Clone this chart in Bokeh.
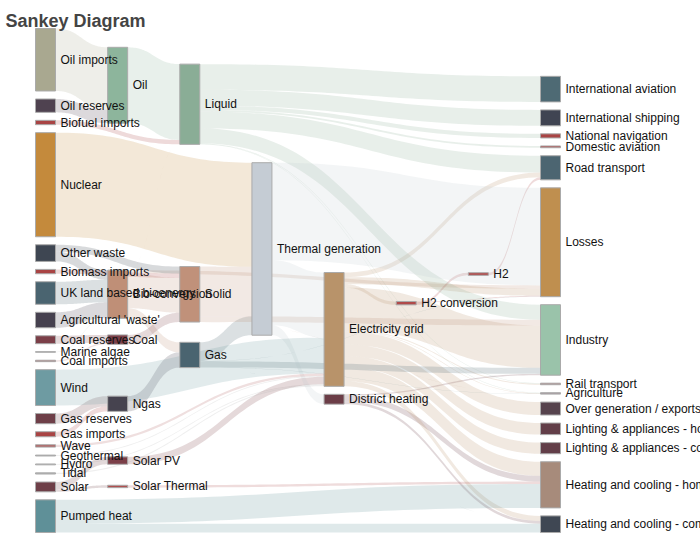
import numpy as np
from bokeh.plotting import figure
from bokeh.models import Range1d, ColumnDataSource
from bokeh.core.properties import value
from bokeh.embed import file_html
from bokeh.resources import INLINE

# ---------------- data ----------------
node_names = [
    "Agricultural 'waste'", "Bio-conversion", "Liquid", "Losses", "Solid", "Gas",
    "Biofuel imports", "Biomass imports", "Coal imports", "Coal", "Coal reserves",
    "District heating", "Industry", "Heating and cooling - commercial",
    "Heating and cooling - homes", "Electricity grid", "Over generation / exports",
    "H2 conversion", "Road transport", "Agriculture", "Rail transport",
    "Lighting & appliances - commercial", "Lighting & appliances - homes",
    "Gas imports", "Ngas", "Gas reserves", "Thermal generation", "Geothermal", "H2",
    "Hydro", "International shipping", "Domestic aviation", "International aviation",
    "National navigation", "Marine algae", "Nuclear", "Oil imports", "Oil",
    "Oil reserves", "Other waste", "Pumped heat", "Solar PV", "Solar Thermal",
    "Solar", "Tidal", "UK land based bioenergy", "Wave", "Wind",
]
node_colors = [
    "#46414f", "#bf8f77", "#8aad96", "#bf8f4f", "#c0917a", "#4a6470",
    "#a94444", "#a94444", "#b06868", "#7b3f48", "#7b3f48",
    "#6b3d47", "#9ac3aa", "#3f4753",
    "#a78b7b", "#b8936a", "#56434d",
    "#b04a4a", "#4c6571", "#a89aa0", "#b08080",
    "#623e48", "#623e48",
    "#a94444", "#46434f", "#6e3f48", "#c5ccd4", "#b0b0b0", "#b04a4a",
    "#b0b0b0", "#404452", "#b05050", "#4e6a74",
    "#a94444", "#b0b0b0", "#c48a3c", "#a9a890", "#8db59c",
    "#4f4250", "#3e4652", "#5f9098", "#7b3f48", "#b05050",
    "#6e3f48", "#b0b0b0", "#4a6470", "#b06060", "#6e9ba2",
]
# order in which the nodes are listed (top to bottom within each column)
node_order = [
    "Oil imports", "Oil reserves", "Biofuel imports", "Nuclear", "Other waste",
    "Biomass imports", "UK land based bioenergy", "Agricultural 'waste'", "Coal reserves",
    "Marine algae", "Coal imports", "Wind", "Gas reserves", "Gas imports", "Wave",
    "Geothermal", "Hydro", "Tidal", "Solar", "Pumped heat",
    "Oil", "Bio-conversion", "Coal", "Ngas", "Solar PV", "Solar Thermal",
    "Liquid", "Solid", "Gas", "Thermal generation", "Electricity grid", "District heating",
    "H2 conversion", "H2",
    "International aviation", "International shipping", "National navigation",
    "Domestic aviation", "Road transport", "Losses", "Industry", "Rail transport",
    "Agriculture", "Over generation / exports", "Lighting & appliances - homes",
    "Lighting & appliances - commercial", "Heating and cooling - homes",
    "Heating and cooling - commercial",
]
link_source = [0, 1, 1, 1, 1, 6, 7, 8, 10, 9, 11, 11, 11, 15, 15, 15, 15, 15, 15, 15,
               15, 15, 15, 15, 23, 25, 5, 5, 5, 5, 5, 27, 17, 17, 28, 29, 2, 2, 2, 2,
               2, 2, 2, 2, 34, 24, 35, 36, 38, 37, 39, 39, 40, 40, 41, 42, 43, 43, 4, 4,
               4, 26, 26, 26, 44, 45, 46, 47]
link_target = [1, 2, 3, 4, 5, 2, 4, 9, 9, 4, 12, 13, 14, 16, 14, 17, 12, 18, 19, 13,
               3, 20, 21, 22, 24, 24, 13, 3, 26, 19, 12, 15, 28, 3, 18, 15, 12, 30, 18, 31,
               32, 19, 33, 20, 1, 5, 26, 37, 37, 2, 4, 1, 14, 13, 15, 14, 42, 41, 19, 26,
               12, 15, 3, 11, 15, 1, 15, 15]
link_value = [124.729, 0.597, 26.862, 280.322, 81.144, 35, 35, 11.606, 63.965, 75.571,
              10.639, 22.505, 46.184, 104.453, 113.726, 27.14, 342.165, 37.797, 4.412,
              40.858, 56.691, 7.863, 90.008, 93.494, 40.719, 82.233, 0.129, 1.401,
              151.891, 2.096, 48.58, 7.013, 20.897, 6.242, 20.897, 6.995, 121.066,
              128.69, 135.835, 14.458, 206.267, 3.64, 33.218, 4.413, 4.375, 122.952,
              839.978, 504.287, 107.703, 611.99, 56.587, 77.81, 193.026, 70.672, 59.901,
              19.263, 19.263, 59.901, 0.882, 400.12, 46.477, 525.531, 787.129, 79.329,
              9.452, 182.01, 19.013, 289.366]
title_text = "Sankey Diagram"

# ---------------- layout (relaxation sankey, listed order kept) ----------------
PW, PH = 700, 560
LEFT, TOP = 0.05 * PW, 0.05 * PH
W, H = PW * 0.75, PH * 0.9
NODE_W, GAP, ITER = 20, 8, 32

N = len(node_names)
E = len(link_value)
order = [node_names.index(n) for n in node_order]
outs = [[] for _ in range(N)]
ins = [[] for _ in range(N)]
for e in range(E):
    outs[link_source[e]].append(e)
    ins[link_target[e]].append(e)
nval = [max(sum(link_value[e] for e in outs[i]), sum(link_value[e] for e in ins[i]))
        for i in range(N)]

indeg = [len(ins[i]) for i in range(N)]
zero = [i for i in order if indeg[i] == 0]
depth = [0] * N
step = 0
while zero:
    nxt = []
    for i in zero:
        depth[i] = step
        for e in outs[i]:
            t = link_target[e]
            indeg[t] -= 1
            if indeg[t] == 0 and t not in nxt:
                nxt.append(t)
    step += 1
    zero = nxt
maxd = step - 1
for i in range(N):
    if not outs[i]:
        depth[i] = maxd
kx = (W - NODE_W) / maxd
nx = [depth[i] * kx for i in range(N)]
cols = [[i for i in order if depth[i] == d] for d in sorted(set(depth))]

ky = min((H - (len(c) - 1) * GAP) / sum(nval[i] for i in c) for c in cols)
ny = [0.0] * N
ndy = [nval[i] * ky for i in range(N)]
for c in cols:
    for k, i in enumerate(c):
        ny[i] = float(k)
edy = [v * ky for v in link_value]


def center(i):
    return ny[i] + ndy[i] / 2


def resolve():
    for c in cols:
        y0 = 0.0
        for i in c:
            d = y0 - ny[i]
            if d > 0:
                ny[i] += d
            y0 = ny[i] + ndy[i] + GAP
        d = y0 - GAP - H
        if d > 0:
            last = c[-1]
            ny[last] -= d
            y0 = ny[last]
            for i in reversed(c[:-1]):
                d = ny[i] + ndy[i] + GAP - y0
                if d > 0:
                    ny[i] -= d
                y0 = ny[i]


resolve()
alpha = 1.0
for _ in range(ITER):
    alpha *= 0.99
    for c in reversed(cols):
        for i in c:
            if outs[i]:
                y = sum(center(link_target[e]) * link_value[e] for e in outs[i]) / \
                    sum(link_value[e] for e in outs[i])
                ny[i] += (y - center(i)) * alpha
    resolve()
    for c in cols:
        for i in c:
            if ins[i]:
                y = sum(center(link_source[e]) * link_value[e] for e in ins[i]) / \
                    sum(link_value[e] for e in ins[i])
                ny[i] += (y - center(i)) * alpha
    resolve()

sy = [0.0] * E
ty = [0.0] * E
for i in range(N):
    acc = 0.0
    for e in sorted(outs[i], key=lambda e: ny[link_target[e]]):
        sy[e] = acc
        acc += edy[e]
    acc = 0.0
    for e in sorted(ins[i], key=lambda e: ny[link_source[e]]):
        ty[e] = acc
        acc += edy[e]

# ---------------- drawing ----------------
tt = np.linspace(0, 1, 48)
xs, ys, lc = [], [], []
for e in range(E):
    s, t = link_source[e], link_target[e]
    x1 = LEFT + nx[s] + NODE_W
    x2 = LEFT + nx[t]
    y1 = TOP + ny[s] + sy[e]
    y2 = TOP + ny[t] + ty[e]
    cx = (x1 + x2) / 2
    bx = (1 - tt) ** 3 * x1 + 3 * (1 - tt) ** 2 * tt * cx + 3 * (1 - tt) * tt ** 2 * cx + tt ** 3 * x2
    by = (1 - tt) ** 3 * y1 + 3 * (1 - tt) ** 2 * tt * y1 + 3 * (1 - tt) * tt ** 2 * y2 + tt ** 3 * y2
    xs.append(np.concatenate([bx, bx[::-1]]).tolist())
    ys.append(np.concatenate([by, (by + edy[e])[::-1]]).tolist())
    lc.append(node_colors[s])

p = figure(width=PW, height=PH, x_range=Range1d(0, PW), y_range=Range1d(PH, 0),
           output_backend="svg", toolbar_location=None, min_border=0)
p.axis.visible = False
p.grid.visible = False
p.outline_line_color = None
p.background_fill_color = "white"

p.patches(xs="xs", ys="ys", fill_color="c", fill_alpha=0.2, line_color=None,
          source=ColumnDataSource(dict(xs=xs, ys=ys, c=lc)))

left = [LEFT + nx[i] for i in range(N)]
p.quad(left=left, right=[l + NODE_W for l in left],
       top=[TOP + ny[i] for i in range(N)], bottom=[TOP + ny[i] + ndy[i] for i in range(N)],
       fill_color=node_colors, line_color="#aaaaaa", line_width=1)

p.text(x=[l + NODE_W + 5 for l in left], y=[TOP + center(i) for i in range(N)],
       text=node_names, text_font=value("Liberation Sans"), text_font_size="12px",
       text_baseline="middle", text_align="left", text_color="#111111")

p.text(x=[5], y=[20.5], text=[title_text], text_font=value("Liberation Sans"),
       text_font_size="18px", text_font_style="bold", text_color="#444444",
       text_baseline="alphabetic")

open("out.html", "w").write(file_html(p, INLINE))
